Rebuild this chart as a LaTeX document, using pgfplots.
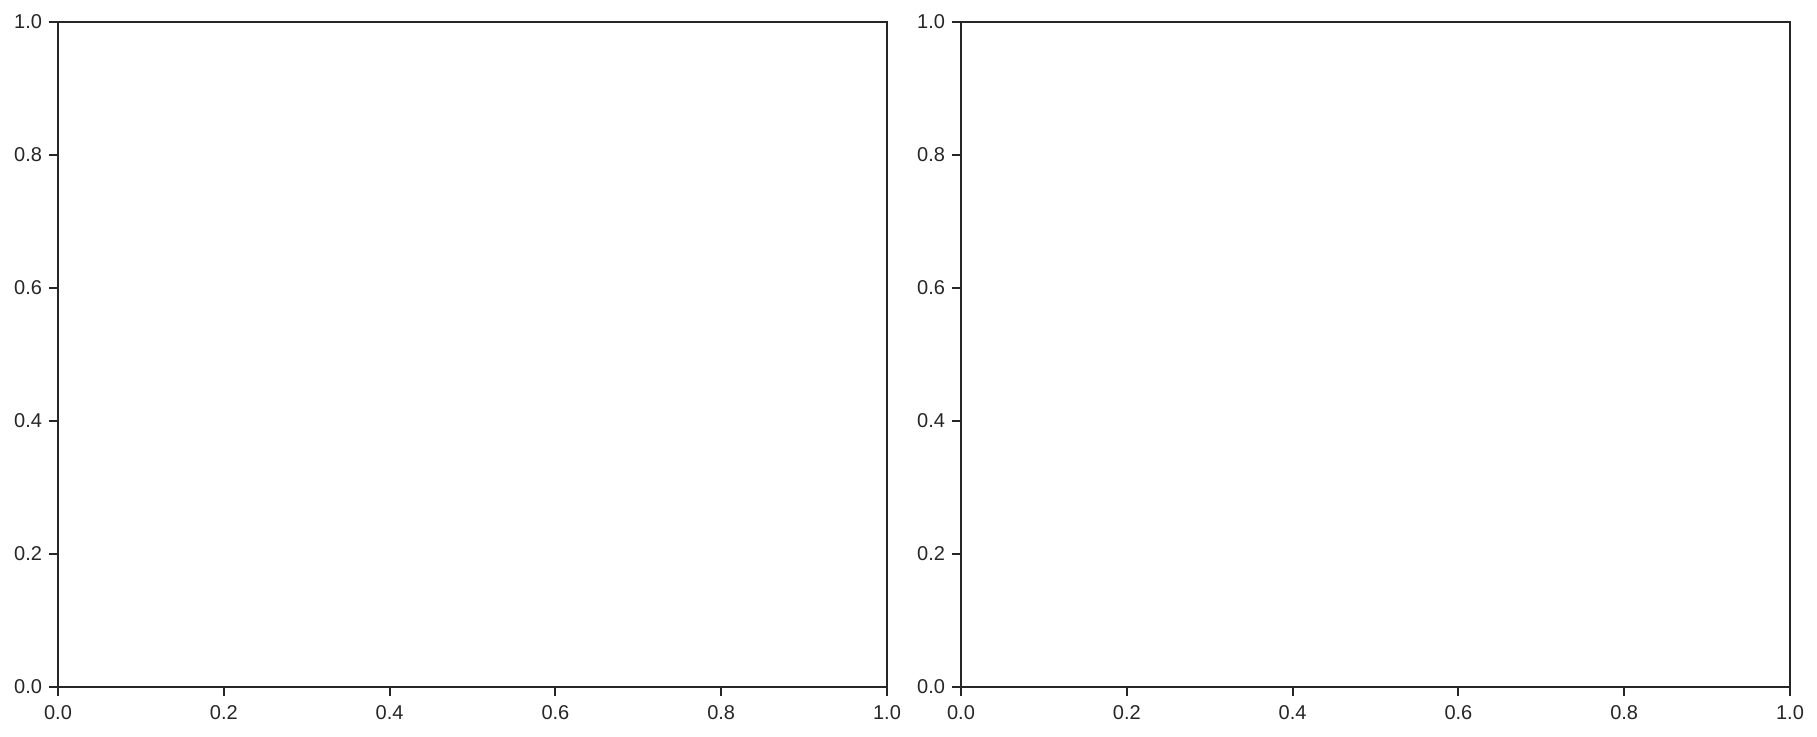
\documentclass[border=0pt]{standalone}
\usepackage{fontspec}
\setmainfont{Liberation Sans}
\usepackage{pgfplots}
\pgfplotsset{compat=1.18}
\definecolor{axgray}{HTML}{262626}
\pgfplotsset{
  emptyax/.style={
    scale only axis,
    width=414.5pt, height=332.5pt,
    xmin=0, xmax=1, ymin=0, ymax=1,
    xtick={0,0.2,...,1}, ytick={0,0.2,...,1},
    tick align=outside,
    major tick length=4.5pt,
    xtick pos=bottom, ytick pos=left,
    axis line style={axgray, line width=1pt},
    every tick/.style={axgray, line width=1pt},
    tick label style={font=\fontsize{10}{12}\selectfont, text=axgray},
    xticklabel style={yshift=-1pt},
    /pgf/number format/.cd, fixed, fixed zerofill, precision=1, assume math mode=true,
  }
}
\begin{document}
\begin{tikzpicture}
\useasboundingbox (0,0) rectangle (908.5pt,368.5pt);
\begin{axis}[emptyax, at={(29pt,25pt)}, anchor=south west]
\addplot[draw=none] coordinates {(0,0)};
\end{axis}
\begin{axis}[emptyax, at={(480.5pt,25pt)}, anchor=south west]
\addplot[draw=none] coordinates {(0,0)};
\end{axis}
\end{tikzpicture}
\end{document}
